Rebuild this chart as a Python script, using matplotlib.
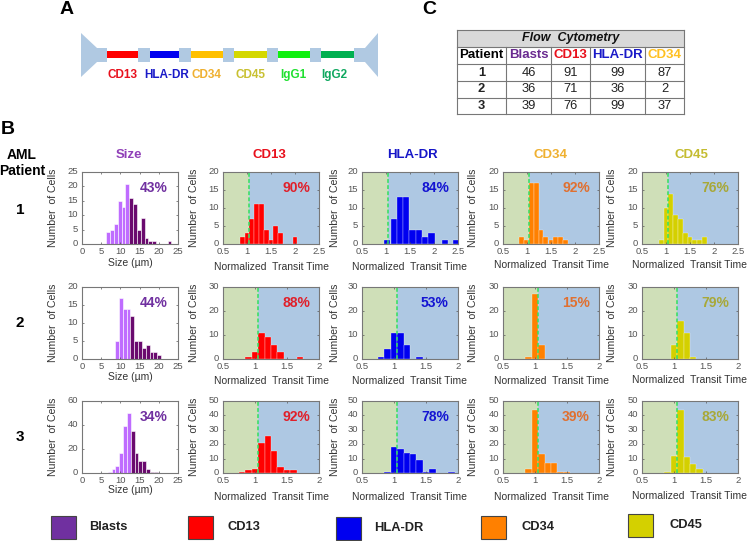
# -*- coding: utf-8 -*-
import matplotlib
matplotlib.use('Agg')
import matplotlib.pyplot as plt
from matplotlib.patches import Rectangle, Polygon
from matplotlib.transforms import ScaledTranslation

plt.rcParams['font.family'] = ['Liberation Sans', 'DejaVu Sans']

#%% Data
# Size histograms: bin centre, count
size1_x = [6.8,7.8,8.8,9.8,10.8,11.8,12.8,13.8,14.8,15.8,16.8,17.8,18.8,22.8]
size1_y = [4,5,7,15,13,21,16,14,5,9,2,1,1,1]
size2_x = [9.1,10.1,11.1,12.1,13.1,14.1,15.1,16.1,17.1,18.1,19.1,20.1]
size2_y = [5,17,14,14,12,5,5,3,4,2,2,1]
size3_x = [7.2,8.2,9.2,10.2,11.2,12.2,13.2,14.2,15.2,16.2,17.2,18.2,19.2]
size3_y = [1,3,6,17,39,50,35,17,10,10,3,1,1]
size_split = [12.3, 12.6, 12.7]   # light bars below, dark bars above

# Transit time histograms, patient 1
cd13_1_x = [0.9,1.0,1.1,1.2,1.3,1.4,1.5,1.6,1.7,2.0]
cd13_1_y = [2,3,7,11,11,4,1,5,3,2]
hla_1_x = [1.02,1.16,1.29,1.42,1.55,1.69,1.82,1.95,2.23,2.46]
hla_1_y = [1,7,13,13,4,4,2,3,1,1]
cd34_1_x = [0.88,0.98,1.09,1.19,1.29,1.39,1.5,1.6,1.7,1.8]
cd34_1_y = [2,1,17,17,4,2,1,2,2,1]
cd45_1_x = [0.9,1.0,1.1,1.2,1.3,1.4,1.5,1.6,1.7,1.8]
cd45_1_y = [1,10,14,8,7,3,2,1,1,2]

# patient 2
cd13_2_x = [0.9,1.0,1.1,1.2,1.3,1.4,1.7]
cd13_2_y = [1,3,11,9,6,3,1]
hla_2_x = [0.8,0.9,1.0,1.1,1.2,1.4]
hla_2_y = [1,4,11,11,6,1]
cd34_2_x = [0.9,1.0,1.1]
cd34_2_y = [1,27,6]
cd45_2_x = [1.0,1.1,1.2,1.3]
cd45_2_y = [6,16,11,1]

# patient 3
cd13_3_x = [0.8,0.9,1.0,1.1,1.2,1.3,1.4,1.5,1.6]
cd13_3_y = [0.5,2,3,21,26,15,4,2,2]
hla_3_x = [0.9,1.0,1.1,1.2,1.3,1.4,1.5,1.6,1.9]
hla_3_y = [1,18,17,14,13,9,1,3,1]
cd34_3_x = [0.9,1.0,1.1,1.2,1.3,1.4,1.5]
cd34_3_y = [3,44,13,7,7,0.5,0.5]
cd45_3_x = [0.9,1.0,1.1,1.2,1.3,1.4]
cd45_3_y = [0.5,12,44,11,6,3]

size_pct = ['43%', '44%', '34%']
cd13_pct = ['90%', '88%', '92%']
hla_pct = ['84%', '53%', '78%']
cd34_pct = ['92%', '15%', '39%']
cd45_pct = ['76%', '79%', '83%']

size_ymax = [25, 20, 60]
size_yticks = [[0,5,10,15,20,25], [0,5,10,15,20], [0,20,40,60]]
tt_ymax = [20, 30, 50]
tt_yticks = [[0,5,10,15,20], [0,10,20,30], [0,10,20,30,40,50]]
tt_xmax = [2.5, 2, 2]
tt_xticks = [[0.5,1,1.5,2,2.5], [0.5,1,1.5,2], [0.5,1,1.5,2]]
tt_xlabels = [['0.5','1','1.5','2','2.5'], ['0.5','1','1.5','2'], ['0.5','1','1.5','2']]
threshold = [1.05, 1.05, 1.05]

table_head = ['Patient', 'Blasts', 'CD13', 'HLA-DR', 'CD34']
table_rows = [['1','46','91','99','87'], ['2','36','71','36','2'], ['3','39','76','99','37']]

channel_names = ['CD13', 'HLA-DR', 'CD34', 'CD45', 'IgG1', 'IgG2']
legend_names = ['Blasts', 'CD13', 'HLA-DR', 'CD34', 'CD45']

#%% Layout and colours
W = 750 ; H = 541
c_purple = '#7030a0'
c_red = '#ff0000' ; c_blue = '#0000f0' ; c_orange = '#ff8000' ; c_yellow = '#d4d000'
c_green_bg = '#cfdfb8' ; c_blue_bg = '#aec8e3' ; c_line = '#30e060'
c_grey = '#555555'

col_left = [82, 223, 362, 503, 642]
col_width = 96
row_top = [172, 287, 401]
row_height = 72
ylab_x = [58, 199, 340, 478, 617]
xlab_y = [[263,267,267,265,265], [377,381,381,381,380], [490,497,497,497,496]]

fig = plt.figure(figsize=(W/100, H/100), dpi=100)
bg = fig.add_axes([0, 0, 1, 1])
bg.set_xlim(0, W) ; bg.set_ylim(H, 0) ; bg.axis('off')


def make_axes(col, row, ymax, yticks, xmax, xticks, xlabels, xlabel):
    ax = fig.add_axes([col_left[col]/W, 1-(row_top[row]+row_height)/H, col_width/W, row_height/H])
    ax.set_xlim(0.5 if col else 0, xmax)
    ax.set_ylim(0, ymax)
    ax.set_xticks(xticks) ; ax.set_xticklabels(xlabels)
    ax.set_yticks(yticks)
    ax.tick_params(direction='in', length=1.5, width=0.5, labelsize=6.8, colors=c_grey,
                   pad=2, top=True, right=True)
    ax.tick_params(axis='y', pad=3)
    # y tick labels sit slightly above their ticks in the original
    shift = ScaledTranslation(0, 1.5/100, fig.dpi_scale_trans)
    for lab in ax.yaxis.get_majorticklabels():
        lab.set_transform(lab.get_transform() + shift)
    for s in ax.spines.values():
        s.set_color('#777777') ; s.set_linewidth(0.8)
    ax.set_ylabel('Number  of Cells', fontsize=7.6, color='#333333')
    ax.yaxis.set_label_coords((ylab_x[col]-col_left[col])/col_width, 0.5)
    bg.text(col_left[col]+col_width/2, xlab_y[row][col], xlabel, fontsize=7.5, color='#333333',
            ha='center', va='center')
    return ax


#%% Panel B size histograms
size_x = [size1_x, size2_x, size3_x]
size_y = [size1_y, size2_y, size3_y]
for r in range(3):
    ax = make_axes(0, r, size_ymax[r], size_yticks[r], 25, [0,5,10,15,20,25],
                   ['0','5','10','15','20','25'], 'Size (µm)')
    colors = ['#bf6cff' if x < size_split[r] else '#6a0a6e' for x in size_x[r]]
    ax.bar(size_x[r], size_y[r], width=1.0, color=colors, edgecolor='white', linewidth=0.4)
    ax.text(0.75, 0.78, size_pct[r], transform=ax.transAxes, fontsize=10, fontweight='bold',
            color=c_purple, ha='center', va='center')

#%% Panel B transit time histograms
panels = [
    (1, c_red, '#e0202a', cd13_pct, [cd13_1_x,cd13_2_x,cd13_3_x], [cd13_1_y,cd13_2_y,cd13_3_y]),
    (2, c_blue, '#1414d2', hla_pct, [hla_1_x,hla_2_x,hla_3_x], [hla_1_y,hla_2_y,hla_3_y]),
    (3, c_orange, '#e07030', cd34_pct, [cd34_1_x,cd34_2_x,cd34_3_x], [cd34_1_y,cd34_2_y,cd34_3_y]),
    (4, c_yellow, '#a8a838', cd45_pct, [cd45_1_x,cd45_2_x,cd45_3_x], [cd45_1_y,cd45_2_y,cd45_3_y]),
]
for col, bar_col, txt_col, pct, xs, ys in panels:
    for r in range(3):
        ax = make_axes(col, r, tt_ymax[r], tt_yticks[r], tt_xmax[r], tt_xticks[r],
                       tt_xlabels[r], 'Normalized  Transit Time')
        ax.axvspan(0.5, threshold[r], color=c_green_bg, lw=0)
        ax.axvspan(threshold[r], tt_xmax[r], color=c_blue_bg, lw=0)
        wid = 0.13 if (col == 2 and r == 0) else 0.1
        ax.bar(xs[r], ys[r], width=wid, color=bar_col, edgecolor='#ffffff', linewidth=0.2)
        ax.axvline(threshold[r], color=c_line, ls='--', lw=1.1, dashes=(2.5, 1.5))
        ax.text(0.76, 0.78, pct[r], transform=ax.transAxes, fontsize=10, fontweight='bold',
                color=txt_col, ha='center', va='center')

#%% Panel letters and headings
bg.text(67, 10, 'A', fontsize=14, fontweight='bold', ha='center', va='center')
bg.text(8, 130, 'B', fontsize=14, fontweight='bold', ha='center', va='center')
bg.text(429, 9, 'C', fontsize=14, fontweight='bold', ha='center', va='center')
bg.text(22, 163, 'AML\nPatient', fontsize=10, fontweight='bold', ha='center', va='center', linespacing=1.1)
for i, yy in enumerate([210, 323, 437]):
    bg.text(20, yy, str(i+1), fontsize=11, fontweight='bold', ha='center', va='center')

head_x = [129, 269, 412, 551, 691]
head_names = ['Size', 'CD13', 'HLA-DR', 'CD34', 'CD45']
head_cols = ['#9040b8', '#e8101c', '#1616c8', '#efb030', '#c4bc30']
for xx, name, cc in zip(head_x, head_names, head_cols):
    bg.text(xx, 155, name, fontsize=9.5, fontweight='bold', color=cc, ha='center', va='center')

#%% Panel A channel
chan_blue = '#b0c9e2'
bg.add_patch(Polygon([(81,33),(97,48),(107,48),(107,62),(97,62),(81,77)], fc=chan_blue, ec='none'))
bg.add_patch(Polygon([(378,33),(365,48),(354,48),(354,62),(365,62),(378,77)], fc=chan_blue, ec='none'))
seg_x = [(107,138), (150,179), (191,223), (234,267), (278,310), (321,354)]
seg_cols = ['#ff0000', '#0000f0', '#ffc000', '#d4d800', '#10f010', '#00b050']
txt_x = [122, 167, 206, 250, 293, 334]
txt_cols = ['#e8101c', '#1a1ac8', '#efb030', '#c8c030', '#20e030', '#10a860']
for k in range(5):
    bg.add_patch(Rectangle((seg_x[k][1], 48), seg_x[k+1][0]-seg_x[k][1], 14, fc=chan_blue, ec='none'))
for (x0, x1), cc, tx, tc, name in zip(seg_x, seg_cols, txt_x, txt_cols, channel_names):
    bg.add_patch(Rectangle((x0, 51), x1-x0, 7, fc=cc, ec='none'))
    bg.text(tx, 75, name, fontsize=8.5, fontweight='bold', color=tc, ha='center', va='center')

#%% Panel C table
xl = [457, 506, 551, 590, 645, 684]
yl = [30, 47, 64, 81, 98, 114]
bg.add_patch(Rectangle((xl[0], yl[0]), xl[-1]-xl[0], yl[1]-yl[0], fc='#d9d9d9', ec='none'))
for yy in yl:
    bg.plot([xl[0], xl[-1]], [yy, yy], color='#777777', lw=0.8)
for i, xx in enumerate(xl):
    bg.plot([xx, xx], [yl[0] if i in (0, 5) else yl[1], yl[-1]], color='#777777', lw=0.8)
bg.text((xl[0]+xl[-1])/2, (yl[0]+yl[1])/2, 'Flow  Cytometry', fontsize=9, fontweight='bold',
        style='italic', ha='center', va='center', color='#111111')
t_cols = ['black', '#6a2a90', '#e8101c', '#1a1ac8', '#ffc020']
for j, name in enumerate(table_head):
    bg.text((xl[j]+xl[j+1])/2, (yl[1]+yl[2])/2, name, fontsize=9.5, fontweight='bold',
            color=t_cols[j], ha='center', va='center')
for i, row in enumerate(table_rows):
    for j, val in enumerate(row):
        bg.text((xl[j]+xl[j+1])/2, (yl[i+2]+yl[i+3])/2, val, fontsize=9.3,
                fontweight='bold' if j == 0 else 'normal', color='#222222', ha='center', va='center')

#%% Legend squares
sq_x = [51, 188, 336, 481, 628]
sq_y = [516, 516, 517, 516, 514]
sq_cols = [c_purple, c_red, c_blue, c_orange, c_yellow]
leg_txt_x = [89, 227, 374, 521, 669]
for xx, yy, cc, tx, name in zip(sq_x, sq_y, sq_cols, leg_txt_x, legend_names):
    bg.add_patch(Rectangle((xx, yy), 25, 23, fc=cc, ec='#444444', lw=0.8))
    bg.text(tx, yy+11, name, fontsize=9.3, fontweight='bold', color='#222222', ha='left', va='center')

plt.savefig('out.png', dpi=100)
